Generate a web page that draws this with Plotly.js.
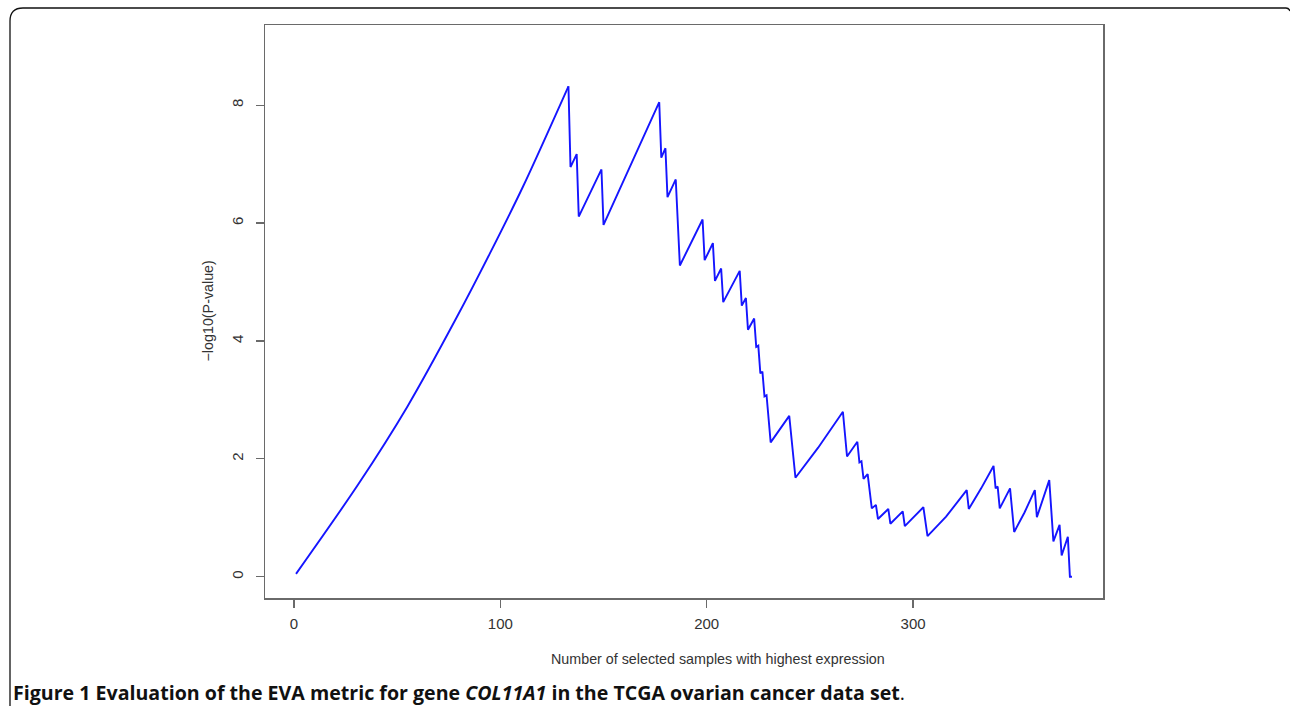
<!DOCTYPE html>
<html>
<head>
<meta charset="utf-8">
<script src="https://cdn.plot.ly/plotly-3.0.1.min.js"></script>
<style>
  html, body { margin: 0; padding: 0; background: #ffffff; }
  #chart { width: 1290px; height: 706px; }
</style>
</head>
<body>
<div id="chart"></div>
<script>
// Number of selected samples with highest expression (x) and -log10(P-value) (y)
const samples = [1, 31, 55, 79, 95, 111, 133,
  134, 137, 138, 149, 150, 177, 178, 180, 181, 185, 187, 198, 199, 203, 204, 207, 208,
  216, 217, 219, 220, 223, 224, 225, 226, 227, 228, 229, 231, 240, 243, 254, 266,
  268, 273, 274, 275, 276, 278, 280, 282, 283, 288, 289, 295, 296, 305, 307, 316, 326,
  327, 333, 339, 340, 341, 342, 347, 349, 354, 359, 360, 366, 368, 371, 372, 375, 376, 377];
const negLogP = [0.05, 1.56, 2.89, 4.41, 5.49, 6.62, 8.32,
  6.95, 7.17, 6.11, 6.91, 5.97, 8.05, 7.11, 7.27, 6.44, 6.74, 5.28, 6.06, 5.37, 5.66, 5.02, 5.23, 4.66,
  5.19, 4.60, 4.73, 4.19, 4.38, 3.90, 3.92, 3.45, 3.48, 3.06, 3.08, 2.28, 2.73, 1.68, 2.19, 2.80,
  2.04, 2.29, 1.94, 1.96, 1.66, 1.74, 1.16, 1.22, 0.98, 1.15, 0.90, 1.11, 0.86, 1.18, 0.69, 1.02, 1.47,
  1.15, 1.50, 1.88, 1.50, 1.53, 1.16, 1.50, 0.76, 1.09, 1.47, 1.01, 1.64, 0.60, 0.88, 0.36, 0.68, 0.00, 0.00];

// the first rise (up to the maximum) is a smooth curve; the rest is a saw-tooth
const riseEnd = 7;

const xTicks = [0, 100, 200, 300];
const yTicks = [0, 2, 4, 6, 8];

const xTitle = "Number of selected samples with highest expression";
const yTitle = "\u2212log10(P-value)";
const caption = "<b>Figure 1 Evaluation of the EVA metric for gene <i>COL11A1</i> in the TCGA ovarian cancer data set</b>.";

// geometry helpers (plot area in pixels)
const W = 1290, H = 706;
const L = 265, R = 1103, T = 25, B = 598;
const px = v => (v - L) / (R - L);
const py = v => (B - v) / (B - T);

const lineStyle = { color: '#1515ff', width: 1.9 };

const riseTrace = {
  x: samples.slice(0, riseEnd),
  y: negLogP.slice(0, riseEnd),
  type: 'scatter', mode: 'lines',
  line: Object.assign({ shape: 'spline', smoothing: 0.8 }, lineStyle),
  hoverinfo: 'skip'
};
const sawTrace = {
  x: samples.slice(riseEnd - 1),
  y: negLogP.slice(riseEnd - 1),
  type: 'scatter', mode: 'lines',
  line: Object.assign({ shape: 'linear' }, lineStyle),
  hoverinfo: 'skip'
};

const tickFont = { family: 'Liberation Sans, Arial, sans-serif', size: 15, color: '#333' };
const titleFont = { family: 'Liberation Sans, Arial, sans-serif', size: 14.3, color: '#333' };

const axisCommon = {
  showgrid: false,
  zeroline: false,
  showline: true,
  mirror: true,
  linecolor: '#6a6a6a',
  linewidth: 1.5,
  ticks: 'outside',
  ticklen: 8,
  tickwidth: 1.2,
  tickcolor: '#6a6a6a',
  tickfont: tickFont
};

const framePath = 'M ' + px(10) + ',' + py(712) +
  ' L ' + px(10) + ',' + py(21) +
  ' Q ' + px(10) + ',' + py(8) + ' ' + px(23) + ',' + py(8) +
  ' L ' + px(1286) + ',' + py(8) +
  ' Q ' + px(1289) + ',' + py(8) + ' ' + px(1290) + ',' + py(11);

const layout = {
  width: W,
  height: H,
  paper_bgcolor: '#ffffff',
  plot_bgcolor: '#ffffff',
  showlegend: false,
  margin: { l: L, r: W - R, t: T, b: H - B, pad: 0 },
  xaxis: Object.assign({}, axisCommon, {
    range: [-14.04, 392.04],
    tickvals: xTicks,
    ticktext: xTicks.map(String),
    ticklabelstandoff: 3
  }),
  yaxis: Object.assign({}, axisCommon, {
    range: [-0.36, 9.36],
    tickvals: yTicks,
    ticktext: yTicks.map(String),
    tickangle: -90,
    ticklabelstandoff: 7
  }),
  annotations: [
    {
      text: xTitle, xref: 'paper', yref: 'paper',
      x: px(718), y: py(659), xanchor: 'center', yanchor: 'middle',
      showarrow: false, font: titleFont
    },
    {
      text: yTitle, xref: 'paper', yref: 'paper',
      x: px(207), y: 0.5, xanchor: 'center', yanchor: 'middle',
      textangle: -90, showarrow: false, font: titleFont
    },
    {
      text: caption, xref: 'paper', yref: 'paper',
      x: px(11), y: py(692), xanchor: 'left', yanchor: 'middle',
      showarrow: false,
      font: { family: 'Open Sans, Noto Sans, sans-serif', size: 19.6, color: '#111' }
    }
  ],
  shapes: [
    {
      type: 'path', xref: 'paper', yref: 'paper',
      path: framePath,
      line: { color: '#111', width: 1.3 }
    }
  ]
};

Plotly.newPlot('chart', [riseTrace, sawTrace], layout, { staticPlot: true, displayModeBar: false });
</script>
</body>
</html>
